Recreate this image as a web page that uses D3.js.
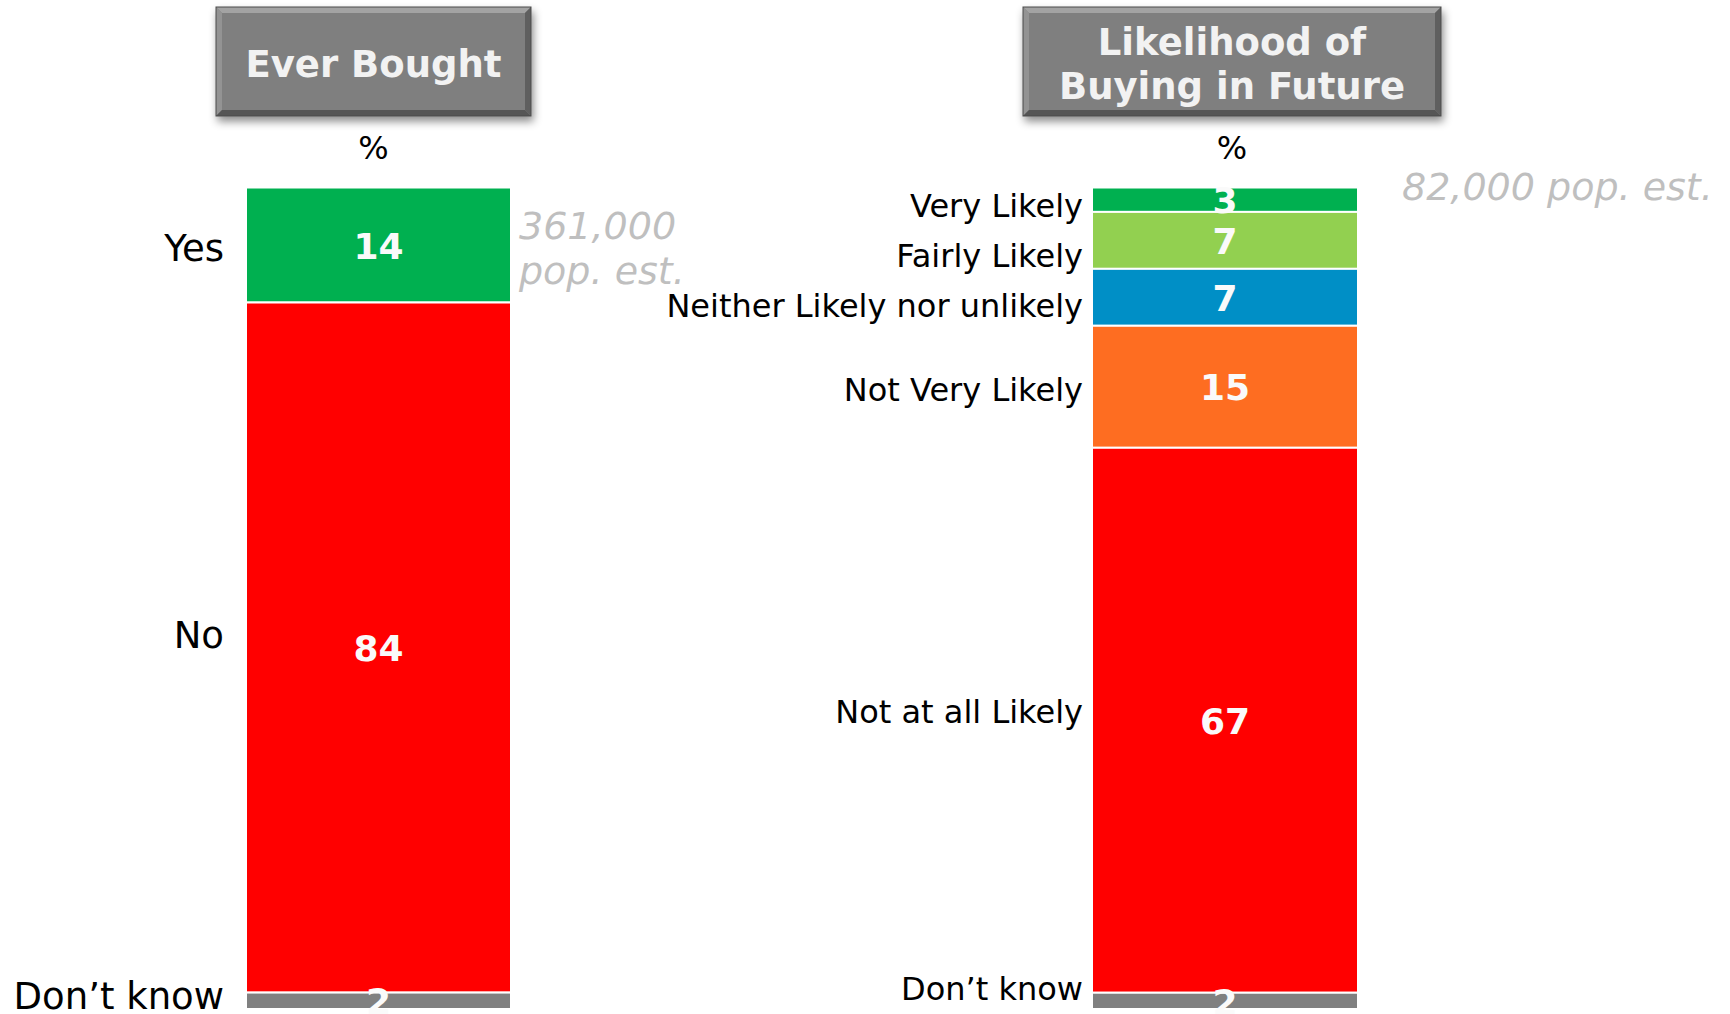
<!DOCTYPE html>
<html>
<head>
<meta charset="utf-8">
<script src="https://cdn.jsdelivr.net/npm/d3@7"></script>
<style>
  html, body { margin: 0; padding: 0; background: #fff; }
  svg { display: block; }
</style>
</head>
<body>
<div id="chart"></div>
<script>
// data
const everCategories = ["Yes", "No", "Don\u2019t know"];
const everValues = [14, 84, 2];
const everColors = ["#00b050", "#ff0000", "#808080"];

const futureCategories = ["Very Likely", "Fairly Likely", "Neither Likely nor unlikely", "Not Very Likely", "Not at all Likely", "Don\u2019t know"];
const futureValues = [3, 7, 7, 15, 67, 2];
const futureColors = ["#00b050", "#92d050", "#008fc6", "#fe6d21", "#ff0000", "#808080"];

const titles = [["Ever Bought"], ["Likelihood of", "Buying in Future"]];
const popEst = [["361,000", "pop. est."], ["82,000 pop. est."]];

const W = 1730, H = 1014;
const FONT = "'DejaVu Sans', Verdana, sans-serif";

const svg = d3.select("#chart").append("svg")
    .attr("width", W).attr("height", H)
    .attr("viewBox", `0 0 ${W} ${H}`);

const defs = svg.append("defs");
defs.append("filter").attr("id", "boxShadow")
    .attr("x", "-10%").attr("y", "-20%").attr("width", "130%").attr("height", "160%")
    .append("feDropShadow")
    .attr("dx", 2).attr("dy", 5).attr("stdDeviation", 4)
    .attr("flood-color", "#000").attr("flood-opacity", 0.45);

// panel layout
const panels = [
    {
        cats: everCategories, vals: everValues, cols: everColors, title: titles[0], pop: popEst[0],
        barX: 246, barW: 265, box: { x: 216, y: 7, w: 315, h: 109 }, titleY: [64],
        labelX: 224, labelSize: 37, labelGap: 48, labelMax: 996,
        popX: 519, popY: [225, 270]
    },
    {
        cats: futureCategories, vals: futureValues, cols: futureColors, title: titles[1], pop: popEst[1],
        barX: 1092, barW: 266, box: { x: 1023, y: 7, w: 418, h: 109 }, titleY: [42, 86],
        labelX: 1083, labelSize: 32, labelGap: 50, labelMax: 988,
        popX: 1402, popY: [186]
    }
];

const barTop = 187.5, barBottom = 1009;

panels.forEach(p => {
    const g = svg.append("g");

    // title box with bevel
    const b = p.box, bev = 6;
    const tb = g.append("g").attr("filter", "url(#boxShadow)");
    tb.append("rect").attr("x", b.x).attr("y", b.y).attr("width", b.w).attr("height", b.h).attr("fill", "#7f7f7f");
    const x0 = b.x, y0 = b.y, x1 = b.x + b.w, y1 = b.y + b.h;
    const bevels = [
        { pts: [[x0, y0], [x1, y0], [x1 - bev, y0 + bev], [x0 + bev, y0 + bev]], c: "#a3a3a3" },
        { pts: [[x0, y0], [x0 + bev, y0 + bev], [x0 + bev, y1 - bev], [x0, y1]], c: "#939393" },
        { pts: [[x0, y1], [x0 + bev, y1 - bev], [x1 - bev, y1 - bev], [x1, y1]], c: "#555555" },
        { pts: [[x1, y0], [x1, y1], [x1 - bev, y1 - bev], [x1 - bev, y0 + bev]], c: "#5e5e5e" }
    ];
    tb.selectAll("polygon.bev").data(bevels).enter().append("polygon")
        .attr("points", d => d.pts.map(q => q.join(",")).join(" "))
        .attr("fill", d => d.c);
    tb.append("rect").attr("x", x0).attr("y", y0).attr("width", b.w).attr("height", b.h)
        .attr("fill", "none").attr("stroke", "#4a4a4a").attr("stroke-width", 1);

    const cx = b.x + b.w / 2;
    g.selectAll("text.title").data(p.title).enter().append("text")
        .attr("x", cx).attr("y", (d, i) => p.titleY[i])
        .attr("dy", "0.36em")
        .attr("text-anchor", "middle")
        .style("font-family", FONT).style("font-weight", "bold").style("font-size", "37px")
        .style("fill", "#f2f2f2")
        .text(d => d);

    g.append("text")
        .attr("x", cx).attr("y", 147).attr("dy", "0.36em")
        .attr("text-anchor", "middle")
        .style("font-family", FONT).style("font-size", "32px").style("fill", "#000")
        .text("%");

    // stacked bar
    const row = {};
    p.cats.forEach((c, i) => row[c] = p.vals[i]);
    const series = d3.stack().keys(p.cats)([row]);
    const y = d3.scaleLinear().domain([0, d3.sum(p.vals)]).range([barTop, barBottom]);

    g.selectAll("rect.seg").data(series).enter().append("rect")
        .attr("class", "seg")
        .attr("x", p.barX).attr("width", p.barW)
        .attr("y", d => y(d[0][0]))
        .attr("height", d => y(d[0][1]) - y(d[0][0]))
        .attr("fill", (d, i) => p.cols[i])
        .attr("stroke", "#fff").attr("stroke-width", 2);

    g.selectAll("text.val").data(series).enter().append("text")
        .attr("x", p.barX + p.barW / 2)
        .attr("y", d => (y(d[0][0]) + y(d[0][1])) / 2)
        .attr("dy", "0.38em")
        .attr("text-anchor", "middle")
        .style("font-family", FONT).style("font-weight", "bold").style("font-size", "36px")
        .style("fill", "#fafafa")
        .text((d, i) => p.vals[i]);

    // category labels: near segment centre (tall segments lifted a bit), spread when crowded
    const ly = series.map(d => {
        const y0s = y(d[0][0]), y1s = y(d[0][1]);
        return (y0s + y1s) / 2 + 6 - 0.027 * (y1s - y0s);
    });
    for (let i = 1; i < ly.length; i++) ly[i] = Math.max(ly[i], ly[i - 1] + p.labelGap);
    ly[ly.length - 1] = Math.min(ly[ly.length - 1], p.labelMax);

    g.selectAll("text.cat").data(p.cats).enter().append("text")
        .attr("x", p.labelX).attr("y", (d, i) => ly[i])
        .attr("dy", "0.36em")
        .attr("text-anchor", "end")
        .style("font-family", FONT).style("font-size", p.labelSize + "px")
        .style("fill", "#000")
        .text(d => d);

    // population estimate
    g.selectAll("text.pop").data(p.pop).enter().append("text")
        .attr("x", p.popX).attr("y", (d, i) => p.popY[i]).attr("dy", "0.36em")
        .style("font-family", FONT).style("font-style", "italic").style("font-size", "38px")
        .style("fill", "#bfbfbf")
        .text(d => d);
});
</script>
</body>
</html>
